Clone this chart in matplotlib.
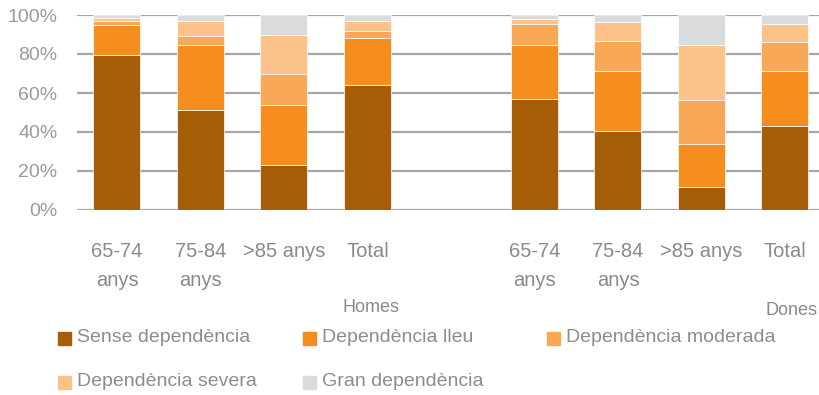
import numpy as np
import matplotlib.pyplot as plt
from matplotlib.patches import Rectangle

plt.rcParams['font.family'] = ['Liberation Sans', 'DejaVu Sans']

# age groups, men first then women
groups = ['Homes', 'Dones']
age_labels = ['65-74\nanys', '75-84\nanys', '>85 anys', 'Total']

series = ['Sense dependència', 'Dependència lleu', 'Dependència moderada',
          'Dependència severa', 'Gran dependència']
colors = ['#A55D07', '#F58E1F', '#F8A857', '#FCC289', '#DADBDD']

# percentages, 4 homes + 4 dones
sense = [79.5, 51.5, 23.0, 64.3, 57.0, 40.4, 12.0, 43.1]
lleu = [15.5, 32.9, 30.9, 23.7, 27.4, 31.1, 21.8, 28.4]
moderada = [1.7, 4.6, 15.9, 3.6, 10.8, 15.4, 22.4, 14.8]
severa = [1.8, 8.1, 20.1, 5.3, 2.9, 9.3, 28.2, 8.9]
gran = [1.5, 2.9, 10.1, 3.1, 1.9, 3.8, 15.6, 4.8]
values = [sense, lleu, moderada, severa, gran]

# one empty slot between the two groups
x = np.r_[np.arange(4), np.arange(4) + 5]

fig = plt.figure(figsize=(8.2, 3.95), dpi=100)
ax = fig.add_axes([77 / 820, 1 - 210 / 395, 743 / 820, 195 / 395])

bottom = np.zeros(len(x))
for vals, col in zip(values, colors):
    ax.bar(x, vals, width=0.563, bottom=bottom, color=col,
           edgecolor='white', linewidth=0.5, zorder=3)
    bottom += np.array(vals)

ax.set_xlim(-0.479, 8.42)
ax.set_ylim(0, 100)
ax.set_yticks(range(0, 101, 20))
ax.set_yticklabels([f'{v}%' for v in range(0, 101, 20)])
ax.yaxis.grid(True, color='#A6A6A6', linewidth=1.6, zorder=0)
ax.set_axisbelow(True)
for s in ax.spines.values():
    s.set_visible(False)

ax.set_xticks(x)
ax.set_xticklabels(age_labels * 2, linespacing=1.7)
ax.tick_params(axis='x', length=0, pad=23, labelsize=14.5, labelcolor='#8A8A8A')
ax.tick_params(axis='y', length=0, pad=14, labelsize=14, labelcolor='#9A9A9A')

# group names under the category labels
trans = ax.get_xaxis_transform()
ax.text(3.04, -0.5, groups[0], transform=trans, ha='center', va='center',
        fontsize=13, color='#8A8A8A')
ax.text(8.08, -0.515, groups[1], transform=trans, ha='center', va='center',
        fontsize=13, color='#8A8A8A')

# legend, two rows
legend_pos = [(58, 338), (303, 338), (547, 338), (58, 382), (303, 382)]
for (px, py), name, col in zip(legend_pos, series, colors):
    fig.patches.append(Rectangle((px / 820, 1 - (py + 7) / 395), 13 / 820, 13 / 395,
                                 transform=fig.transFigure, color=col))
    fig.text((px + 19) / 820, 1 - py / 395, name, ha='left', va='center',
             fontsize=14, color='#8C8C8C')

fig.savefig('out.png', dpi=100)
